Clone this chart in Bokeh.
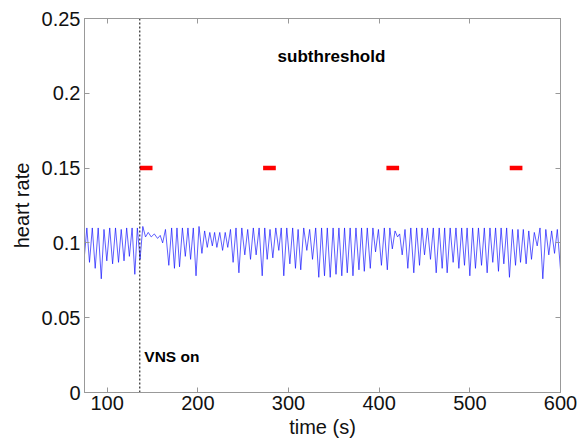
from bokeh.plotting import figure
from bokeh.models import Range1d, FixedTicker, LinearAxis, Label
from bokeh.embed import file_html
from bokeh.resources import INLINE

# extrema of the heart-rate trace (time in s, heart rate)
t = [75.0, 77.6, 80.5, 83.6, 86.8, 90.1, 93.5, 96.5, 99.6, 102.8, 106.0, 109.2, 112.5, 115.5,
     118.6, 121.5, 124.5, 127.5, 130.5, 133.3, 136.3, 139.3, 142.3, 145.3, 148.6, 152.0, 155.6,
     158.5, 161.2, 164.3, 168.0, 171.1, 174.2, 177.0, 179.8, 183.0, 186.2, 189.1, 192.0, 195.0,
     198.0, 201.3, 204.5, 207.5, 210.4, 213.2, 216.0, 218.5, 221.0, 224.2, 227.3, 230.2, 233.0,
     236.0, 238.9, 242.1, 245.3, 248.5, 251.8, 255.0, 258.1, 261.2, 264.3, 267.6, 271.0, 273.8,
     276.5, 279.6, 282.7, 286.0, 289.3, 292.0, 294.8, 298.1, 301.5, 304.6, 307.7, 310.6, 313.5,
     316.8, 320.2, 323.3, 326.5, 330.0, 333.4, 336.5, 339.7, 342.8, 346.0, 349.2, 352.4, 355.6,
     358.8, 361.8, 364.8, 368.0, 371.1, 374.4, 377.7, 380.6, 383.6, 386.9, 390.2, 393.1, 396.0,
     399.2, 402.5, 405.7, 409.0, 411.8, 414.5, 417.5, 420.3, 422.6, 425.4, 428.5, 431.6, 434.9,
     438.2, 441.3, 444.5, 447.2, 450.0, 453.3, 456.6, 459.7, 462.9, 466.2, 469.5, 472.2, 475.0,
     478.3, 481.6, 484.7, 487.9, 491.0, 494.1, 497.0, 500.0, 503.1, 506.2, 509.5, 512.9, 516.0,
     519.1, 522.2, 525.3, 528.4, 531.6, 534.5, 537.5, 540.6, 543.7, 547.0, 550.4, 553.1, 555.9,
     559.0, 562.1, 565.0, 568.0, 571.1, 574.3, 577.4, 580.5, 583.8, 587.1, 590.2, 593.4, 596.5,
     600.0]
hr = [0.092, 0.110, 0.087, 0.110, 0.083, 0.110, 0.076, 0.109, 0.088, 0.110, 0.086, 0.110, 0.087,
      0.109, 0.088, 0.110, 0.091, 0.110, 0.079, 0.110, 0.089, 0.111, 0.104, 0.107, 0.104, 0.106,
      0.103, 0.105, 0.100, 0.109, 0.085, 0.110, 0.083, 0.110, 0.084, 0.110, 0.091, 0.110, 0.089,
      0.110, 0.078, 0.111, 0.093, 0.108, 0.097, 0.107, 0.098, 0.107, 0.097, 0.107, 0.095, 0.107,
      0.097, 0.109, 0.087, 0.110, 0.080, 0.110, 0.092, 0.109, 0.089, 0.110, 0.092, 0.110, 0.078,
      0.110, 0.089, 0.109, 0.090, 0.110, 0.095, 0.110, 0.078, 0.110, 0.086, 0.110, 0.083, 0.109,
      0.082, 0.110, 0.095, 0.109, 0.089, 0.110, 0.077, 0.110, 0.078, 0.110, 0.077, 0.110, 0.079,
      0.110, 0.078, 0.110, 0.080, 0.110, 0.078, 0.110, 0.082, 0.110, 0.081, 0.110, 0.083, 0.110,
      0.094, 0.109, 0.085, 0.110, 0.082, 0.110, 0.096, 0.108, 0.104, 0.106, 0.092, 0.109, 0.083,
      0.110, 0.080, 0.110, 0.085, 0.110, 0.092, 0.110, 0.089, 0.110, 0.080, 0.110, 0.083, 0.110,
      0.080, 0.110, 0.087, 0.110, 0.083, 0.110, 0.085, 0.110, 0.078, 0.110, 0.083, 0.110, 0.085,
      0.110, 0.080, 0.110, 0.087, 0.110, 0.081, 0.110, 0.086, 0.110, 0.077, 0.109, 0.085, 0.109,
      0.087, 0.109, 0.086, 0.108, 0.089, 0.107, 0.098, 0.110, 0.076, 0.109, 0.092, 0.108, 0.093,
      0.109, 0.082]

stim_start = [136, 272, 408, 544]
stim_end = [150, 286, 422, 558]
stim_level = [0.15, 0.15, 0.15, 0.15]
vns_on_time = 136

x_ticks = [100, 200, 300, 400, 500, 600]
y_ticks = [0, 0.05, 0.1, 0.15, 0.2, 0.25]
y_tick_labels = ["0", "0.05", "0.1", "0.15", "0.2", "0.25"]

FONT = "Liberation Sans"
AX = "#999999"

p = figure(width=580, height=442, x_range=Range1d(75, 600), y_range=Range1d(0, 0.25),
           output_backend="svg", toolbar_location=None,
           min_border_left=84, min_border_right=20, min_border_top=18, min_border_bottom=50)
p.grid.visible = False
p.outline_line_color = AX

p.line(t, hr, line_color="#1010ff", line_width=0.8, line_alpha=0.85, line_join="round")
p.segment(x0=stim_start, y0=stim_level, x1=stim_end, y1=stim_level,
          line_color="#ff0000", line_width=4.5)
p.segment(x0=[vns_on_time], y0=[0], x1=[vns_on_time], y1=[0.25],
          line_color="black", line_width=1, line_dash="2 2")

p.add_layout(Label(x=141, y=0.0241, text="VNS on", text_font=FONT, text_font_size="15.5px",
                   text_font_style="bold", text_baseline="middle", text_color="black"))
p.add_layout(Label(x=288, y=0.2243, text="subthreshold", text_font=FONT, text_font_size="17px",
                   text_font_style="bold", text_baseline="middle", text_color="black"))

for ax in [p.xaxis[0], p.yaxis[0]]:
    ax.axis_line_color = AX
    ax.major_tick_line_color = AX
    ax.major_tick_in = 5
    ax.major_tick_out = 0
    ax.minor_tick_line_color = None
    ax.major_label_text_font = FONT
    ax.major_label_text_font_size = "20px"
    ax.major_label_text_color = "#111111"
    ax.axis_label_text_font = FONT
    ax.axis_label_text_font_size = "20px"
    ax.axis_label_text_font_style = "normal"
    ax.axis_label_text_color = "#111111"

p.xaxis[0].ticker = FixedTicker(ticks=x_ticks)
p.yaxis[0].ticker = FixedTicker(ticks=y_ticks)
p.yaxis[0].major_label_overrides = {v: s for v, s in zip(y_ticks, y_tick_labels)}
p.xaxis[0].axis_label = "time (s)"
p.yaxis[0].axis_label = "heart rate"
p.xaxis[0].major_label_standoff = 3
p.xaxis[0].axis_label_standoff = 3
p.yaxis[0].major_label_standoff = 4
p.yaxis[0].axis_label_standoff = 6

top = LinearAxis(ticker=FixedTicker(ticks=x_ticks), major_label_text_font_size="0px",
                 major_label_overrides={v: "" for v in x_ticks},
                 major_label_standoff=0, axis_line_color=AX, major_tick_line_color=AX,
                 major_tick_in=5, major_tick_out=0, minor_tick_line_color=None)
right = LinearAxis(ticker=FixedTicker(ticks=y_ticks), major_label_text_font_size="0px",
                   major_label_overrides={v: "" for v in y_ticks},
                   major_label_standoff=0, axis_line_color=AX, major_tick_line_color=AX,
                   major_tick_in=5, major_tick_out=0, minor_tick_line_color=None)
p.add_layout(top, "above")
p.add_layout(right, "right")

open("out.html", "w").write(file_html(p, INLINE))
